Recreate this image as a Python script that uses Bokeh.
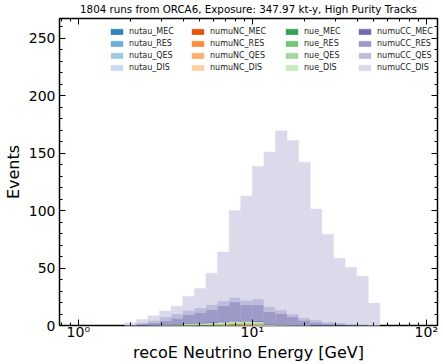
import numpy as np
from bokeh.plotting import figure
from bokeh.models import (ColumnDataSource, Range1d, FixedTicker, LogAxis, LinearAxis,
                          Legend, LegendItem, CustomJSTickFormatter)
from bokeh.embed import file_html
from bokeh.resources import INLINE

# ---------------- data ----------------
# 30 log-spaced bins from 1 to 100 GeV (15 per decade)
BIN_EDGES = np.logspace(0, 2, 31)

#                0    1    2    3    4    5    6    7    8    9    10   11   12   13    14    15    16    17    18    19    20   21   22   23   24   25   26 27 28 29
nutau_MEC   = [0,   0,   0,   0,   0,   0,   0,   0,   0,   0,   0,   0,   0,   0,    0,    0.02, 0,    0,    0,    0,    0,   0,   0,   0,   0,   0,   0, 0, 0, 0]
nutau_RES   = [0,   0,   0,   0,   0,   0,   0,   0,   0,   0,   0,   0,   0,   0,    0,    0.03, 0.03, 0,    0,    0,    0,   0,   0,   0,   0,   0,   0, 0, 0, 0]
nutau_QES   = [0,   0,   0,   0,   0,   0,   0,   0,   0,   0,   0,   0,   0,   0,    0,    0.02, 0.02, 0,    0,    0,    0,   0,   0,   0,   0,   0,   0, 0, 0, 0]
nutau_DIS   = [0,   0,   0,   0,   0,   0,   0,   0,   0,   0,   0,   0,   0,   0,    0.05, 0.1,  0.1,  0.1,  0.1,  0.05, 0,   0,   0,   0,   0,   0,   0, 0, 0, 0]
numuNC_MEC  = [0,   0,   0,   0,   0,   0,   0,   0,   0,   0,   0,   0,   0,   0.05, 0.05, 0,    0,    0,    0,    0,    0,   0,   0,   0,   0,   0,   0, 0, 0, 0]
numuNC_RES  = [0,   0,   0,   0,   0,   0,   0,   0,   0,   0,   0,   0,   0.1, 0.2,  0.2,  0.2,  0,    0,    0,    0,    0,   0,   0,   0,   0,   0,   0, 0, 0, 0]
numuNC_QES  = [0,   0,   0,   0,   0,   0,   0,   0,   0,   0,   0,   0,   0.1, 0.2,  0.2,  0.2,  0,    0,    0,    0,    0,   0,   0,   0,   0,   0,   0, 0, 0, 0]
numuNC_DIS  = [0,   0,   0,   0,   0,   0,   0,   0,   0,   0.2, 0.3, 0.4, 0.5, 0.7,  0.8,  0.8,  0.2,  0.2,  0,    0,    0,   0,   0,   0,   0,   0,   0, 0, 0, 0]
nue_MEC     = [0,   0,   0,   0,   0,   0,   0,   0,   0,   0,   0.05,0.05,0.1, 0.1,  0.1,  0.05, 0,    0,    0,    0,    0,   0,   0,   0,   0,   0,   0, 0, 0, 0]
nue_RES     = [0,   0,   0,   0,   0,   0,   0,   0,   0.1, 0.2, 0.2, 0.3, 0.3, 0.4,  0.4,  0.3,  0.1,  0,    0,    0,    0,   0,   0,   0,   0,   0,   0, 0, 0, 0]
nue_QES     = [0,   0,   0,   0,   0,   0,   0,   0.1, 0.2, 0.3, 0.3, 0.4, 0.4, 0.4,  0.3,  0.3,  0.1,  0,    0,    0,    0,   0,   0,   0,   0,   0,   0, 0, 0, 0]
nue_DIS     = [0,   0,   0,   0,   0,   0,   0.2, 0.3, 0.5, 0.8, 1.0, 1.2, 1.4, 1.6,  1.5,  1.3,  0.4,  0.3,  0.2,  0.1,  0,   0,   0,   0,   0,   0,   0, 0, 0, 0]
numuCC_MEC  = [0,   0,   0,   0,   0,   0.1, 0.1, 0.2, 0.3, 0.4, 0.5, 0.6, 0.6, 0.7,  0.6,  0.6,  0.4,  0.3,  0.2,  0.2,  0.1, 0.1, 0,   0,   0,   0,   0, 0, 0, 0]
numuCC_RES  = [0,   0,   0,   0,   0.2, 1.1, 2.0, 3.4, 5.2, 7.6, 9.0, 11.0,14.0,16.2, 13.6, 14.0, 10.7, 9.5,  7.0,  4.2,  2.8, 1.6, 1.2, 0.6, 0.4, 0.2, 0, 0, 0, 0]
numuCC_QES  = [0,   0,   0,   0,   0.4, 1.3, 2.2, 3.3, 3.9, 3.7, 3.9, 4.4, 4.0, 4.0,  4.2,  5.2,  4.0,  3.1,  2.4,  2.0,  1.8, 1.5, 1.1, 0.9, 0.6, 0.3, 0, 0, 0, 0]
numuCC_DIS  = [0,   0,   0,   0,   1.9, 2.7, 3.9, 5.4, 6.5, 12.0,16.9,27.2,42.4,75.4, 90.7, 115.4,134.8,155.8,151.0,135.5,96.7,76.0,56.2,49.1,41.8,19.0, 0, 0, 0, 0]

NAMES = ["nutau_MEC", "nutau_RES", "nutau_QES", "nutau_DIS",
         "numuNC_MEC", "numuNC_RES", "numuNC_QES", "numuNC_DIS",
         "nue_MEC", "nue_RES", "nue_QES", "nue_DIS",
         "numuCC_MEC", "numuCC_RES", "numuCC_QES", "numuCC_DIS"]
VALUES = [nutau_MEC, nutau_RES, nutau_QES, nutau_DIS,
          numuNC_MEC, numuNC_RES, numuNC_QES, numuNC_DIS,
          nue_MEC, nue_RES, nue_QES, nue_DIS,
          numuCC_MEC, numuCC_RES, numuCC_QES, numuCC_DIS]
COLORS = ["#3182bd", "#6baed6", "#9ecae1", "#c6dbef",
          "#e6550d", "#fd8d3c", "#fdae6b", "#fdd0a2",
          "#31a354", "#74c476", "#a1d99b", "#c7e9c0",
          "#756bb1", "#9e9ac8", "#bcbddc", "#dadaeb"]

TITLE = "1804 runs from ORCA6, Exposure: 347.97 kt-y, High Purity Tracks"
XLABEL = "recoE Neutrino Energy [GeV]"
YLABEL = "Events"

FONT = "DejaVu Sans"

# ---------------- figure ----------------
p = figure(width=443, height=364, x_axis_type="log",
           x_range=Range1d(0.78, 116), y_range=Range1d(0, 267),
           output_backend="svg", toolbar_location=None,
           min_border_left=59, min_border_right=6, min_border_top=17, min_border_bottom=39)
p.grid.visible = False
p.outline_line_color = "black"
p.outline_line_width = 1.5
p.background_fill_color = "white"
p.border_fill_color = "white"

p.title.text = TITLE
p.title.align = "center"
p.title.vertical_align = "bottom"
p.title.text_font = FONT
p.title.text_font_size = "10.3px"
p.title.text_font_style = "normal"
p.title.text_color = "black"
p.title.standoff = 0
p.title.offset = 2

left = BIN_EDGES[:-1]
right = BIN_EDGES[1:]
bottom = np.zeros(len(left))
renderers = {}
for name, vals, color in zip(NAMES, VALUES, COLORS):
    v = np.asarray(vals, dtype=float)
    top = bottom + v
    m = v > 0
    src = ColumnDataSource(dict(left=left[m], right=right[m], bottom=bottom[m], top=top[m]))
    r = p.quad(left="left", right="right", bottom="bottom", top="top", source=src,
               fill_color=color, line_color=color, line_width=0.4)
    renderers[name] = r
    bottom = top

# ticks
x_major = [1, 10, 100]
x_minor = [0.8, 0.9] + [k for k in range(2, 10)] + [10 * k for k in range(2, 10)]
y_major = [0, 50, 100, 150, 200, 250]
y_minor = [v for v in range(10, 270, 10) if v % 50 != 0]

xfmt = CustomJSTickFormatter(code="""
const m = {1: "10\u2070", 10: "10\u00b9", 100: "10\u00b2"};
const k = Math.round(tick);
return (k in m) ? m[k] : "";
""")
blank = CustomJSTickFormatter(code='return " ";')

def style_axis(ax, show_labels=True):
    ax.axis_line_color = None
    ax.major_tick_in = 6
    ax.major_tick_out = 0
    ax.minor_tick_in = 3
    ax.minor_tick_out = 0
    ax.major_tick_line_color = "black"
    ax.minor_tick_line_color = "black"
    ax.major_tick_line_width = 1
    ax.minor_tick_line_width = 1
    ax.major_label_text_font = FONT
    ax.major_label_text_color = "black"
    ax.major_label_text_font_size = "14px"
    if show_labels:
        ax.major_label_standoff = 4
    else:
        ax.formatter = blank
        ax.major_label_text_font_size = "1px"
        ax.major_label_standoff = 0
    ax.axis_label_text_font = FONT
    ax.axis_label_text_font_style = "normal"
    ax.axis_label_text_font_size = "16px"
    ax.axis_label_text_color = "black"

xa = p.xaxis[0]
xa.ticker = FixedTicker(ticks=x_major, minor_ticks=x_minor)
xa.formatter = xfmt
style_axis(xa)
xa.major_label_standoff = -2
xa.axis_label = XLABEL
xa.axis_label_standoff = 0

ya = p.yaxis[0]
ya.ticker = FixedTicker(ticks=y_major, minor_ticks=y_minor)
style_axis(ya)
ya.axis_label = YLABEL
ya.axis_label_standoff = 3

top_ax = LogAxis(ticker=FixedTicker(ticks=x_major, minor_ticks=x_minor))
style_axis(top_ax, show_labels=False)
p.add_layout(top_ax, "above")

right_ax = LinearAxis(ticker=FixedTicker(ticks=y_major, minor_ticks=y_minor))
style_axis(right_ax, show_labels=False)
p.add_layout(right_ax, "right")

# legend: 4 columns of 4 entries (location = bottom-left corner, frame pixels)
col_x = [50, 131, 225, 298]
for ci in range(4):
    items = [LegendItem(label=NAMES[4 * ci + j], renderers=[renderers[NAMES[4 * ci + j]]]) for j in range(4)]
    leg = Legend(items=items, location=(col_x[ci], 252), orientation="vertical",
                 glyph_width=15, glyph_height=7, label_height=12, label_standoff=5,
                 spacing=0, padding=0, margin=0, border_line_color=None,
                 background_fill_alpha=0, label_text_font=FONT,
                 label_text_font_size="8px", label_text_color="#222222")
    p.add_layout(leg)

open("out.html", "w").write(file_html(p, INLINE))
